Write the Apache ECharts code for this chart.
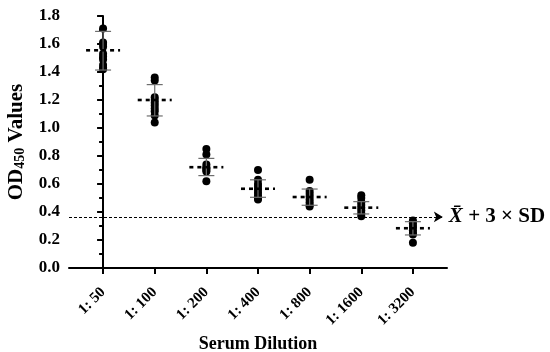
<!DOCTYPE html>
<html>
<head>
<meta charset="utf-8">
<script src="https://cdn.jsdelivr.net/npm/echarts@6/dist/echarts.min.js"></script>
<style>html,body{margin:0;padding:0;background:#fff}#c{width:550px;height:352px}</style>
</head>
<body>
<div id="c"></div>
<script>
const categories = ['1: 50', '1: 100', '1: 200', '1: 400', '1: 800', '1: 1600', '1: 3200'];
const values50   = [1.71, 1.61, 1.60, 1.58, 1.53, 1.51, 1.49, 1.45, 1.43, 1.42];
const values100  = [1.36, 1.34, 1.22, 1.20, 1.18, 1.16, 1.14, 1.12, 1.09, 1.04];
const values200  = [0.85, 0.81, 0.74, 0.72, 0.71, 0.70, 0.69, 0.62];
const values400  = [0.70, 0.63, 0.60, 0.58, 0.56, 0.54, 0.52, 0.50, 0.49];
const values800  = [0.63, 0.55, 0.53, 0.51, 0.49, 0.47, 0.45, 0.44];
const values1600 = [0.52, 0.50, 0.47, 0.45, 0.43, 0.41, 0.39, 0.37];
const values3200 = [0.34, 0.32, 0.30, 0.29, 0.27, 0.25, 0.24, 0.18];
const means   = [1.555, 1.20, 0.72, 0.566, 0.507, 0.431, 0.284];
const sdLow   = [1.414, 1.086, 0.66, 0.505, 0.448, 0.386, 0.236];
const sdHigh  = [1.69, 1.31, 0.783, 0.63, 0.564, 0.474, 0.331];
const cutoff = 0.365;
const yTicks = [0.0, 0.2, 0.4, 0.6, 0.8, 1.0, 1.2, 1.4, 1.6, 1.8];

const groups = [values50, values100, values200, values400, values800, values1600, values3200];
const dots = [];
groups.forEach((g, i) => g.forEach(v => dots.push([i, v])));
const stats = means.map((m, i) => [i, m, sdLow[i], sdHigh[i]]);
const catIdx = categories.map((c, i) => i);

const FONT = '"Liberation Serif", "Times New Roman", serif';
const chart = echarts.init(document.getElementById('c'));
chart.setOption({
  animation: false,
  grid: {left: 69, right: 103, top: 16, bottom: 84, outerBoundsMode: 'none', containLabel: false},
  xAxis: {
    type: 'value', min: -0.66, max: 6.66,
    splitLine: {show: false},
    axisLine: {show: true, onZero: false, lineStyle: {color: '#000', width: 2}},
    axisTick: {show: true, customValues: catIdx, length: 6, lineStyle: {color: '#000', width: 2}},
    axisLabel: {customValues: catIdx, rotate: 45, margin: 22, color: '#000', fontFamily: FONT, fontWeight: 'bold', fontSize: 15,
      formatter: v => categories[Math.round(v)]},
    name: 'Serum Dilution', nameLocation: 'middle', nameGap: 67,
    nameTextStyle: {color: '#000', fontFamily: FONT, fontWeight: 'bold', fontSize: 18}
  },
  yAxis: {
    type: 'value', min: 0, max: 1.8, interval: 0.2,
    splitLine: {show: false},
    axisLine: {show: true, lineStyle: {color: '#000', width: 2}},
    axisTick: {show: true, length: 6, lineStyle: {color: '#000', width: 2}},
    minorTick: {show: true, splitNumber: 2, length: 4, lineStyle: {color: '#000', width: 2}},
    axisLabel: {color: '#000', fontFamily: FONT, fontWeight: 'bold', fontSize: 17, margin: 9,
      formatter: v => yTicks.find(t => Math.abs(t - v) < 1e-6).toFixed(1)},
    name: '{a|OD}{b|450}{a| Values}', nameLocation: 'middle', nameGap: 38, nameRotate: 90,
    nameTextStyle: {rich: {
      a: {color: '#000', fontFamily: FONT, fontWeight: 'bold', fontSize: 21},
      b: {color: '#000', fontFamily: FONT, fontWeight: 'bold', fontSize: 14, verticalAlign: 'bottom', padding: [8, 0, 0, 0]}
    }}
  },
  series: [
    {
      type: 'custom',
      data: stats,
      z: 3,
      renderItem: function (params, api) {
        const x = api.value(0);
        const m = api.coord([x, api.value(1)]);
        const lo = api.coord([x, api.value(2)]);
        const hi = api.coord([x, api.value(3)]);
        const gray = {stroke: '#6e6e6e', lineWidth: 1.2};
        return {type: 'group', children: [
          {type: 'line', shape: {x1: lo[0], y1: lo[1], x2: hi[0], y2: hi[1]}, style: gray},
          {type: 'line', shape: {x1: lo[0] - 8, y1: lo[1], x2: lo[0] + 8, y2: lo[1]}, style: gray},
          {type: 'line', shape: {x1: hi[0] - 8, y1: hi[1], x2: hi[0] + 8, y2: hi[1]}, style: gray},
          {type: 'line', z2: 10, shape: {x1: m[0] - 17, y1: m[1], x2: m[0] + 17, y2: m[1]},
            style: {stroke: '#000', lineWidth: 2.6, lineDash: [4, 4], lineDashOffset: 0}}
        ]};
      }
    },
    {
      type: 'scatter',
      data: dots,
      symbol: 'circle',
      symbolSize: 8,
      z: 2,
      itemStyle: {color: '#000', opacity: 1},
      markLine: {
        silent: true,
        symbol: ['none', 'arrow'],
        symbolSize: [8, 9],
        lineStyle: {color: '#000', type: [3, 2], width: 1},
        label: {show: true, position: 'end', distance: 6,
          formatter: '{x|X\u0304} + 3 × SD',
          color: '#000', fontFamily: FONT, fontWeight: 'bold', fontSize: 21,
          rich: {x: {fontFamily: FONT, fontWeight: 'bold', fontStyle: 'italic', fontSize: 21, color: '#000'}}
        },
        data: [[{coord: [-0.66, cutoff]}, {coord: [6.58, cutoff]}]]
      }
    }
  ]
});
</script>
</body>
</html>
